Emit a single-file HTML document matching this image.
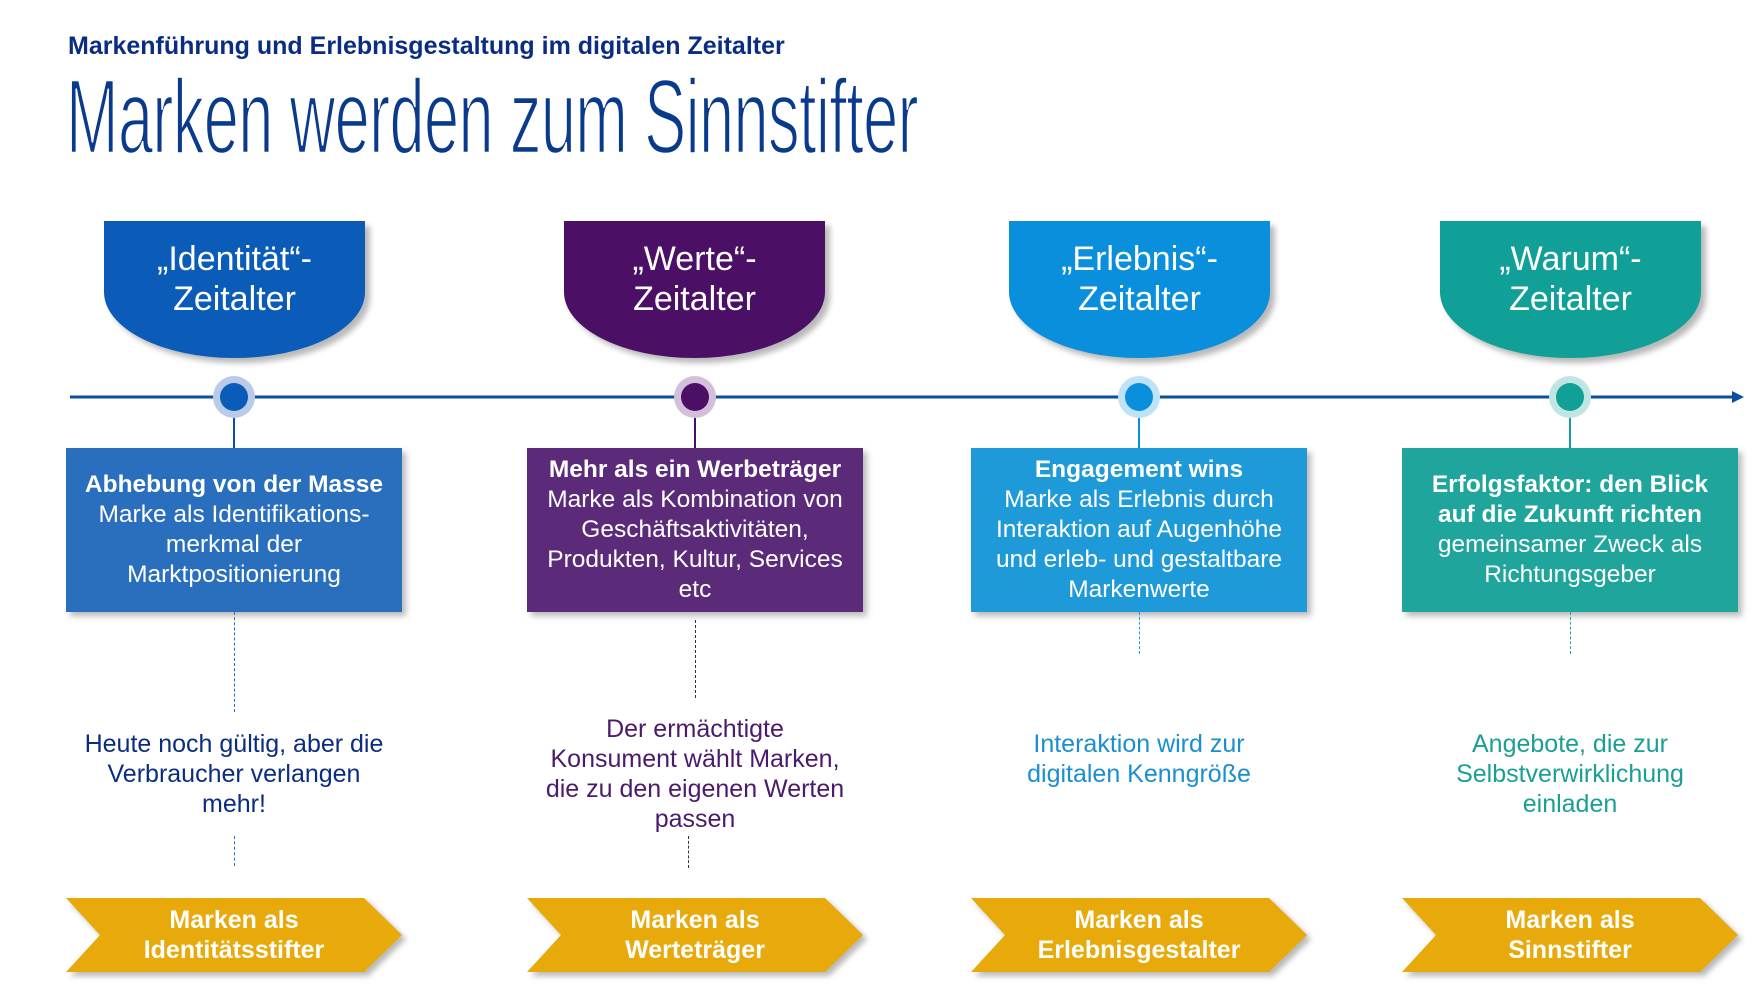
<!DOCTYPE html>
<html><head><meta charset="utf-8"><style>
*{margin:0;padding:0;box-sizing:border-box}
body{width:1758px;height:992px;background:#fff;position:relative;overflow:hidden;font-family:"Liberation Sans",Arial,sans-serif}
.a{position:absolute}
.hdr{position:absolute;top:221px;width:261px;height:137px;border-radius:0 0 130px 130px/0 0 66px 66px;color:#fff;font-size:34px;line-height:40px;text-align:center;padding-top:18px;box-shadow:5px 5px 6px rgba(0,0,0,.28)}
.box{position:absolute;top:448px;width:336px;height:164px;color:#fff;font-size:24.5px;line-height:30px;text-align:center;display:flex;flex-direction:column;justify-content:center;box-shadow:4px 4px 6px rgba(0,0,0,.28);white-space:nowrap}
.box b{font-weight:bold}
.note{position:absolute;width:360px;font-size:25px;line-height:30px;text-align:center}
.chev{position:absolute;top:898px;width:336px;height:74px;filter:drop-shadow(4px 4px 3px rgba(0,0,0,.28))}
.chev div{width:100%;height:100%;background:#e8aa0a;clip-path:polygon(0 0,298px 0,336px 37px,298px 74px,0 74px,34px 37px);color:#fff;font-weight:bold;font-size:25px;line-height:30px;text-align:center;padding-top:7px}
.ring{position:absolute;top:376px;width:42px;height:42px;border-radius:50%}
.ring i{position:absolute;left:7px;top:7px;width:28px;height:28px;border-radius:50%}
.vl{position:absolute;width:2px}
.dl{position:absolute;width:0;border-left:1.5px dashed}
</style></head><body>
<div class="a" style="left:68px;top:32px;font-size:25px;font-weight:bold;color:#0a2d82;white-space:nowrap">Markenführung und Erlebnisgestaltung im digitalen Zeitalter</div>
<div class="a" style="left:66px;top:62px;font-size:106px;line-height:110px;color:#0a3a8c;white-space:nowrap;transform:scaleX(0.595);transform-origin:0 0;letter-spacing:-1px;-webkit-text-stroke:2.5px #fff">Marken werden zum Sinnstifter</div>

<div class="hdr" style="left:104px;background:#0a5cb8">„Identität“-<br>Zeitalter</div>
<div class="hdr" style="left:564px;background:#4b0f66">„Werte“-<br>Zeitalter</div>
<div class="hdr" style="left:1009px;background:#0a8fdc">„Erlebnis“-<br>Zeitalter</div>
<div class="hdr" style="left:1440px;background:#10a097">„Warum“-<br>Zeitalter</div>

<svg class="a" style="left:0;top:0" width="1758" height="992">
<line x1="70" y1="397" x2="1732" y2="397" stroke="#0a4fa0" stroke-width="3"/>
<polygon points="1732,391 1744,397 1732,403" fill="#0a4fa0"/>
</svg>

<div class="vl" style="left:233px;top:397px;height:52px;background:#0a4fa0"></div>
<div class="vl" style="left:694px;top:397px;height:52px;background:#4b0f66"></div>
<div class="vl" style="left:1138px;top:397px;height:52px;background:#0a8fdc"></div>
<div class="vl" style="left:1569px;top:397px;height:52px;background:#10a097"></div>

<div class="ring" style="left:213px;background:#b9cbe8"><i style="background:#0a5cb8"></i></div>
<div class="ring" style="left:674px;background:#d3bfdc"><i style="background:#4b0f66"></i></div>
<div class="ring" style="left:1118px;background:#bfe3f6"><i style="background:#0a8fdc"></i></div>
<div class="ring" style="left:1549px;background:#bfe6e3"><i style="background:#10a097"></i></div>

<div class="box" style="left:66px;background:#2a6fbd"><b>Abhebung von der Masse</b>Marke als Identifikations-<br>merkmal der<br>Marktpositionierung</div>
<div class="box" style="left:527px;background:#5b2b7a"><b>Mehr als ein Werbeträger</b>Marke als Kombination von<br>Geschäftsaktivitäten,<br>Produkten, Kultur, Services<br>etc</div>
<div class="box" style="left:971px;background:#1f9ad9"><b>Engagement wins</b>Marke als Erlebnis durch<br>Interaktion auf Augenhöhe<br>und erleb- und gestaltbare<br>Markenwerte</div>
<div class="box" style="left:1402px;background:#20a59c"><b>Erfolgsfaktor: den Blick<br>auf die Zukunft richten</b>gemeinsamer Zweck als<br>Richtungsgeber</div>

<div class="dl" style="left:234px;top:612px;height:100px;border-color:#2a6fbd"></div>
<div class="dl" style="left:234px;top:836px;height:30px;border-color:#2a6fbd"></div>
<div class="dl" style="left:695px;top:620px;height:78px;border-color:#333"></div>
<div class="dl" style="left:688px;top:836px;height:32px;border-color:#333"></div>
<div class="dl" style="left:1139px;top:612px;height:42px;border-color:#1f9ad9"></div>
<div class="dl" style="left:1570px;top:612px;height:42px;border-color:#20a59c"></div>

<div class="note" style="left:54px;top:729px;color:#0a2d82">Heute noch gültig, aber die<br>Verbraucher verlangen<br>mehr!</div>
<div class="note" style="left:515px;top:714px;color:#4b1a6a">Der ermächtigte<br>Konsument wählt Marken,<br>die zu den eigenen Werten<br>passen</div>
<div class="note" style="left:959px;top:729px;color:#1a8fcf">Interaktion wird zur<br>digitalen Kenngröße</div>
<div class="note" style="left:1390px;top:729px;color:#1a9f95">Angebote, die zur<br>Selbstverwirklichung<br>einladen</div>

<div class="chev" style="left:66px"><div>Marken als<br>Identitätsstifter</div></div>
<div class="chev" style="left:527px"><div>Marken als<br>Werteträger</div></div>
<div class="chev" style="left:971px"><div>Marken als<br>Erlebnisgestalter</div></div>
<div class="chev" style="left:1402px"><div>Marken als<br>Sinnstifter</div></div>
</body></html>
